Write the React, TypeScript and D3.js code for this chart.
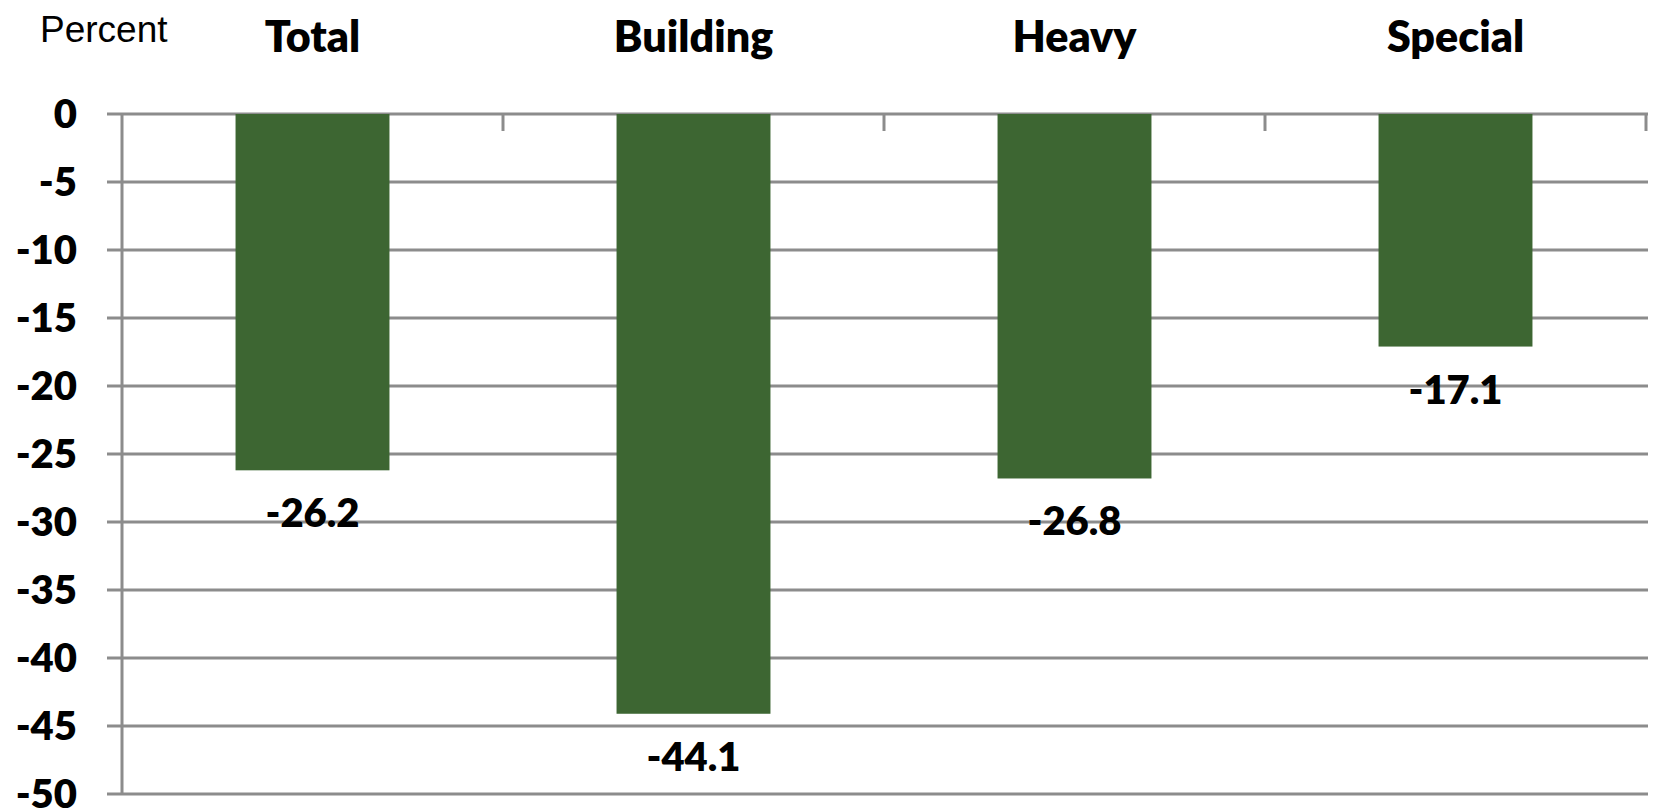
import React, { useRef, useEffect } from "react";
import * as d3 from "d3";

const categories = ["Total", "Building", "Heavy", "Special"];
const values = [-26.2, -44.1, -26.8, -17.1];
const yTicks = [0, -5, -10, -15, -20, -25, -30, -35, -40, -45, -50];

const WIDTH = 1656;
const HEIGHT = 811;
const BOLD_FONT = "Lato, 'Open Sans', sans-serif";
const BOLD_WEIGHT = 800;

export default function App() {
  const svgRef = useRef<SVGSVGElement>(null);

  useEffect(() => {
    if (!svgRef.current) return;
    const svg = d3.select(svgRef.current);
    svg.selectAll("*").remove();

    const left = 122;
    const right = 1646;
    const top = 114;
    const bottom = 794;

    const x = d3
      .scaleBand<string>()
      .domain(categories)
      .range([left, right])
      .paddingInner(0.596)
      .paddingOuter(0.298);
    const y = d3.scaleLinear().domain([0, -50]).range([top, bottom]);

    const grid = "#8c8c8c";

    // gridlines
    svg
      .append("g")
      .selectAll("line")
      .data(yTicks)
      .join("line")
      .attr("x1", left - 15)
      .attr("x2", right + 2)
      .attr("y1", (d) => y(d))
      .attr("y2", (d) => y(d))
      .attr("stroke", grid)
      .attr("stroke-width", 3);

    // left axis
    svg
      .append("line")
      .attr("x1", left)
      .attr("x2", left)
      .attr("y1", y(0))
      .attr("y2", y(-50))
      .attr("stroke", grid)
      .attr("stroke-width", 3);

    // category ticks on the zero line
    const step = x.step();
    const boundaries = categories.map(
      (c) => (x(c) as number) - (step - x.bandwidth()) / 2 + step
    );
    svg
      .append("g")
      .selectAll("line")
      .data(boundaries)
      .join("line")
      .attr("x1", (d) => d)
      .attr("x2", (d) => d)
      .attr("y1", y(0))
      .attr("y2", y(0) + 17)
      .attr("stroke", grid)
      .attr("stroke-width", 3);

    // bars
    svg
      .append("g")
      .selectAll("rect")
      .data(values)
      .join("rect")
      .attr("x", (_, i) => x(categories[i]) as number)
      .attr("width", x.bandwidth())
      .attr("y", y(0))
      .attr("height", (d) => y(d) - y(0))
      .attr("fill", "#3d6632");

    // y tick labels
    svg
      .append("g")
      .selectAll("text")
      .data(yTicks)
      .join("text")
      .attr("x", 77)
      .attr("y", (d) => y(d))
      .attr("dy", "0.34em")
      .attr("text-anchor", "end")
      .style("font-family", BOLD_FONT)
      .style("font-weight", BOLD_WEIGHT)
      .style("font-size", "40px")
      .style("fill", "#000")
      .text((d) => String(d));

    // category labels along the top
    svg
      .append("g")
      .selectAll("text")
      .data(categories)
      .join("text")
      .attr("x", (d) => (x(d) as number) + x.bandwidth() / 2)
      .attr("y", 52)
      .attr("text-anchor", "middle")
      .style("font-family", BOLD_FONT)
      .style("font-weight", BOLD_WEIGHT)
      .style("font-size", "43px")
      .style("fill", "#000")
      .text((d) => d);

    // value labels
    svg
      .append("g")
      .selectAll("text")
      .data(values)
      .join("text")
      .attr("x", (_, i) => (x(categories[i]) as number) + x.bandwidth() / 2)
      .attr("y", (d) => y(d) + 57)
      .attr("text-anchor", "middle")
      .style("font-family", BOLD_FONT)
      .style("font-weight", BOLD_WEIGHT)
      .style("font-size", "40px")
      .style("fill", "#000")
      .text((d) => d.toFixed(1));

    // unit label
    svg
      .append("text")
      .attr("x", 40)
      .attr("y", 42)
      .style("font-family", "'Liberation Sans', Arial, sans-serif")
      .style("font-size", "37px")
      .style("fill", "#000")
      .text("Percent");
  }, []);

  return (
    <svg
      ref={svgRef}
      width={WIDTH}
      height={HEIGHT}
      viewBox={`0 0 ${WIDTH} ${HEIGHT}`}
      style={{ position: "absolute", left: 0, top: 0, background: "#fff" }}
    />
  );
}
